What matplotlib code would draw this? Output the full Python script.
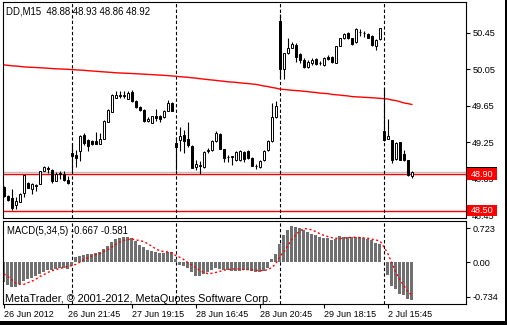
import matplotlib
matplotlib.use('Agg')
import matplotlib.pyplot as plt
import matplotlib.transforms as mtransforms
from matplotlib.patches import Rectangle
import numpy as np

plt.rcParams['font.family'] = ['Liberation Sans', 'DejaVu Sans']

# DD, M15 bars (26 Jun - 2 Jul 2012)
opens = [48.76, 48.66, 48.64, 48.56, 48.60, 48.69, 48.80, 48.74, 48.77, 48.79,
         48.94, 48.97, 48.95, 48.82, 48.90, 48.90, 48.84, 49.13, 49.11, 49.15,
         49.33, 49.27, 49.26, 49.26, 49.23, 49.29, 49.47, 49.58, 49.74, 49.77,
         49.76, 49.73, 49.80, 49.70, 49.64, 49.60, 49.48, 49.46, 49.54, 49.54,
         49.53, 49.59, 49.68, 49.24, 49.28, 49.33, 49.29, 49.21, 48.98, 48.99,
         48.98, 49.15, 49.16, 49.26, 49.34, 49.18, 49.09, 49.09, 49.06, 49.06,
         49.14, 49.15, 49.08, 48.99, 48.98, 49.06, 49.16, 49.26, 49.53, 50.58,
         50.06, 50.23, 50.29, 50.32, 50.22, 50.15, 50.08, 50.12, 50.16, 50.12,
         50.10, 50.19, 50.19, 50.12, 50.31, 50.39, 50.45, 50.39, 50.35, 50.46,
         50.45, 50.44, 50.42, 50.31, 50.38, 49.37, 49.29, 49.28, 49.07, 49.25,
         49.12, 49.06, 48.88]
highs = [48.77, 48.67, 48.74, 48.65, 48.69, 48.89, 48.81, 48.80, 48.79, 48.94,
         48.99, 48.99, 48.96, 48.92, 48.94, 48.93, 48.88, 49.24, 49.17, 49.33,
         49.35, 49.29, 49.28, 49.36, 49.35, 49.49, 49.61, 49.78, 49.81, 49.81,
         49.81, 49.81, 49.82, 49.71, 49.65, 49.61, 49.53, 49.54, 49.62, 49.55,
         49.60, 49.71, 49.69, 49.31, 49.42, 49.39, 49.47, 49.22, 49.06, 49.04,
         49.15, 49.19, 49.27, 49.37, 49.35, 49.18, 49.11, 49.10, 49.15, 49.16,
         49.15, 49.17, 49.09, 49.01, 49.06, 49.17, 49.28, 49.68, 49.70, 50.66,
         50.23, 50.39, 50.35, 50.34, 50.23, 50.17, 50.15, 50.17, 50.17, 50.14,
         50.19, 50.21, 50.20, 50.31, 50.40, 50.45, 50.46, 50.40, 50.50, 50.49,
         50.47, 50.45, 50.43, 50.38, 50.51, 49.85, 49.51, 49.28, 49.25, 49.25,
         49.17, 49.06, 48.93]
lows = [48.65, 48.61, 48.51, 48.52, 48.59, 48.65, 48.75, 48.68, 48.72, 48.79,
        48.93, 48.91, 48.80, 48.82, 48.85, 48.82, 48.79, 48.93, 48.98, 49.04,
        49.22, 49.15, 49.22, 49.23, 49.23, 49.29, 49.47, 49.58, 49.74, 49.74,
        49.74, 49.72, 49.69, 49.63, 49.59, 49.47, 49.47, 49.46, 49.48, 49.47,
        49.52, 49.59, 49.59, 48.95, 49.15, 49.13, 49.20, 48.97, 48.95, 48.90,
        48.97, 49.13, 49.15, 49.25, 49.18, 49.03, 49.03, 49.00, 49.05, 49.05,
        49.03, 49.07, 48.99, 48.96, 48.97, 49.05, 49.15, 49.25, 49.52, 49.95,
        49.95, 50.22, 50.28, 50.13, 50.12, 50.07, 50.07, 50.10, 50.10, 50.10,
        50.09, 50.15, 50.12, 50.12, 50.31, 50.38, 50.38, 50.32, 50.34, 50.42,
        50.41, 50.40, 50.31, 50.26, 50.37, 49.26, 49.29, 49.02, 49.06, 49.06,
        49.04, 48.88, 48.86]
closes = [48.66, 48.62, 48.53, 48.61, 48.68, 48.89, 48.75, 48.79, 48.78, 48.93,
          48.98, 48.96, 48.83, 48.90, 48.91, 48.84, 48.80, 49.10, 49.08, 49.32,
          49.24, 49.21, 49.23, 49.23, 49.29, 49.48, 49.60, 49.77, 49.77, 49.76,
          49.77, 49.79, 49.70, 49.64, 49.60, 49.48, 49.51, 49.54, 49.52, 49.51,
          49.59, 49.68, 49.59, 49.20, 49.32, 49.26, 49.22, 48.97, 49.01, 49.00,
          49.14, 49.17, 49.26, 49.35, 49.18, 49.08, 49.09, 49.10, 49.14, 49.15,
          49.07, 49.08, 48.99, 48.99, 49.05, 49.15, 49.26, 49.53, 49.65, 50.06,
          50.23, 50.28, 50.33, 50.19, 50.15, 50.08, 50.13, 50.15, 50.11, 50.12,
          50.18, 50.16, 50.13, 50.31, 50.39, 50.44, 50.39, 50.33, 50.49, 50.46,
          50.45, 50.40, 50.32, 50.37, 50.50, 49.28, 49.32, 49.06, 49.24, 49.06,
          49.06, 48.89, 48.92]

# red moving average over the candles
ma_line = [50.100, 50.095, 50.090, 50.087, 50.083, 50.078, 50.075, 50.073, 50.071, 50.068,
           50.066, 50.063, 50.059, 50.057, 50.055, 50.053, 50.051, 50.048, 50.045, 50.043,
           50.040, 50.036, 50.033, 50.030, 50.026, 50.023, 50.020, 50.017, 50.013, 50.011,
           50.009, 50.007, 50.005, 50.003, 50.000, 49.998, 49.995, 49.993, 49.990, 49.988,
           49.985, 49.982, 49.978, 49.975, 49.970, 49.967, 49.964, 49.958, 49.955, 49.948,
           49.944, 49.938, 49.934, 49.930, 49.924, 49.920, 49.914, 49.911, 49.908, 49.902,
           49.898, 49.895, 49.890, 49.886, 49.877, 49.868, 49.862, 49.852, 49.845, 49.834,
           49.830, 49.826, 49.821, 49.818, 49.815, 49.810, 49.806, 49.800, 49.797, 49.790,
           49.787, 49.784, 49.776, 49.772, 49.768, 49.763, 49.759, 49.752, 49.749, 49.747,
           49.744, 49.742, 49.739, 49.736, 49.733, 49.729, 49.725, 49.714, 49.708, 49.696,
           49.682, 49.675, 49.665]

# MACD(5,34,5): main (histogram) and signal (dotted)
macd_main = [-0.35, -0.405, -0.44, -0.44, -0.39, -0.335, -0.29, -0.275, -0.25, -0.205,
             -0.17, -0.14, -0.13, -0.12, -0.11, -0.11, -0.12, -0.07, 0.086, 0.116,
             0.133, 0.146, 0.146, 0.163, 0.18, 0.226, 0.29, 0.356, 0.41, 0.426,
             0.437, 0.437, 0.426, 0.367, 0.31, 0.26, 0.21, 0.19, 0.18, 0.163,
             0.163, 0.18, 0.18, 0.058, -0.042, -0.06, -0.095, -0.17, -0.235, -0.247,
             -0.205, -0.17, -0.13, -0.10, -0.112, -0.13, -0.142, -0.147, -0.16, -0.147,
             -0.142, -0.142, -0.147, -0.17, -0.17, -0.147, -0.10, 0.058, 0.146, 0.32,
             0.484, 0.572, 0.63, 0.62, 0.60, 0.56, 0.525, 0.50, 0.47, 0.437,
             0.426, 0.426, 0.384, 0.414, 0.454, 0.444, 0.444, 0.444, 0.437, 0.437,
             0.426, 0.414, 0.384, 0.34, 0.32, 0.01, -0.218, -0.41, -0.463, -0.55,
             -0.58, -0.644, -0.667]
macd_signal = [-0.205, -0.25, -0.31, -0.37, -0.39, -0.39, -0.36, -0.335, -0.30, -0.25,
               -0.22, -0.18, -0.15, -0.13, -0.11, -0.095, -0.072, -0.06, -0.04, 0.0,
               0.046, 0.075, 0.107, 0.133, 0.15, 0.19, 0.22, 0.265, 0.314, 0.356,
               0.384, 0.396, 0.41, 0.39, 0.38, 0.36, 0.326, 0.28, 0.233, 0.20,
               0.186, 0.18, 0.163, 0.116, 0.086, 0.046, -0.007, -0.05, -0.095, -0.147,
               -0.18, -0.20, -0.195, -0.18, -0.16, -0.14, -0.13, -0.12, -0.118, -0.12,
               -0.13, -0.13, -0.135, -0.142, -0.147, -0.147, -0.13, -0.095, -0.025, 0.098,
               0.186, 0.29, 0.396, 0.484, 0.546, 0.59, 0.584, 0.567, 0.537, 0.50,
               0.47, 0.45, 0.43, 0.42, 0.414, 0.423, 0.43, 0.437, 0.437, 0.43,
               0.426, 0.42, 0.405, 0.39, 0.374, 0.274, 0.15, -0.007, -0.18, -0.305,
               -0.41, -0.516, -0.581]

day_starts = [17, 43, 69, 95]
tick_bars = [0, 16, 32, 48, 64, 80, 96]
time_labels = ['26 Jun 2012', '26 Jun 21:45', '27 Jun 19:15', '28 Jun 16:45',
               '28 Jun 20:45', '29 Jun 18:15', '2 Jul 15:45']
price_ticks = [50.45, 50.05, 49.65, 49.25, 48.85, 48.45]
level_lines = [48.90, 48.50]
bid_price = 48.92
macd_range = (-0.734, 0.723)
header = 'DD,M15  48.88 48.93 48.86 48.92'
macd_title = 'MACD(5,34,5) -0.667 -0.581'

W, H = 507, 325
fig = plt.figure(figsize=(W / 100, H / 100), dpi=100)
fig.patch.set_facecolor('white')


def fx(px):
    return px / W


def fy(py):
    return 1 - py / H


ax = fig.add_axes([fx(3), fy(218), fx(466) - fx(3), fy(2) - fy(218)])
axm = fig.add_axes([fx(3), fy(304), fx(466) - fx(3), fy(221) - fy(304)])

x = np.arange(len(opens))
o, h, l, c = map(np.array, (opens, highs, lows, closes))
up = c >= o
xlim = (-0.2, 115.55)

# candles
ax.vlines(x, l, h, color='black', lw=0.8, zorder=3)
body_low = np.minimum(o, c)
body_h = np.maximum(np.abs(c - o), 0.001)
ax.bar(x, body_h, 0.55, bottom=body_low, color=np.where(up, 'white', 'black'),
       edgecolor='black', linewidth=0.7, zorder=4)
ax.plot(x, ma_line, color='red', lw=1, zorder=2)

ax.axhline(bid_price, color='#c0c0c0', lw=1, zorder=1)
for lv in level_lines:
    ax.axhline(lv, color='red', lw=1, zorder=1)

ax.set_xlim(*xlim)
ax.set_ylim(48.419, 50.79)
ax.set_xticks([])
ax.yaxis.tick_right()
ax.set_yticks(price_ticks, [f'{p:.2f}' for p in price_ticks])
ax.tick_params(axis='y', direction='out', length=3, width=0.8, labelsize=6.6, pad=1.5)

# price labels on the right axis (bid label sits under the red 48.90 one)
tr = mtransforms.blended_transform_factory(ax.transAxes, ax.transData)
half = 0.064
ax.add_patch(Rectangle((1.002, bid_price - half), 0.065, 2 * half, transform=tr,
                       facecolor='black', edgecolor='none', clip_on=False, zorder=5))
for lv in level_lines:
    ax.add_patch(Rectangle((1.002, lv - half), 0.065, 2 * half, transform=tr,
                           facecolor='red', edgecolor='none', clip_on=False, zorder=7))
    ax.text(1.0095, lv, f'{lv:.2f}', transform=tr, color='white', fontsize=6.6,
            va='center', ha='left', zorder=8, clip_on=False)

# MACD window
axm.bar(x, macd_main, 0.7, color='#707070', zorder=2)
axm.plot(x, macd_signal, color='red', lw=1, ls=(0, (1.5, 1.8)), zorder=3)
axm.set_xlim(*xlim)
axm.set_ylim(*macd_range)
axm.yaxis.tick_right()
span = macd_range[1] - macd_range[0]
axm.set_yticks([macd_range[1] - 0.09 * span, 0.0, macd_range[0] + 0.09 * span],
               [f'{macd_range[1]:.3f}', '0.00', f'{macd_range[0]:.3f}'])
axm.tick_params(axis='y', direction='out', length=3, width=0.8, labelsize=6.6, pad=1.5)
axm.set_xticks(tick_bars, time_labels)
axm.tick_params(axis='x', direction='out', length=3, width=0.8, labelsize=6.5, pad=1.5)
for lab in axm.get_xticklabels():
    lab.set_horizontalalignment('left')

for a in (ax, axm):
    for d in day_starts:
        a.axvline(d, color='black', lw=0.8, ls=(0, (3, 2)), zorder=1)
    for s in a.spines.values():
        s.set_linewidth(0.8)
        s.set_color('black')

fig.text(fx(6), fy(11), header, fontsize=6.9, va='center', ha='left')
fig.text(fx(7), fy(231), macd_title, fontsize=6.9, va='center', ha='left')
fig.text(fx(5), fy(299.5), 'MetaTrader, \u00a9 2001-2012, MetaQuotes Software Corp.',
         fontsize=7.8, va='center', ha='left', zorder=10)

# window edges
fig.add_artist(Rectangle((0, 0), 1, fy(321), transform=fig.transFigure,
                         facecolor='black', edgecolor='none'))
fig.add_artist(Rectangle((fx(505), 0), 1 - fx(505), 1, transform=fig.transFigure,
                         facecolor='black', edgecolor='none'))

fig.savefig('out.png', dpi=100)
